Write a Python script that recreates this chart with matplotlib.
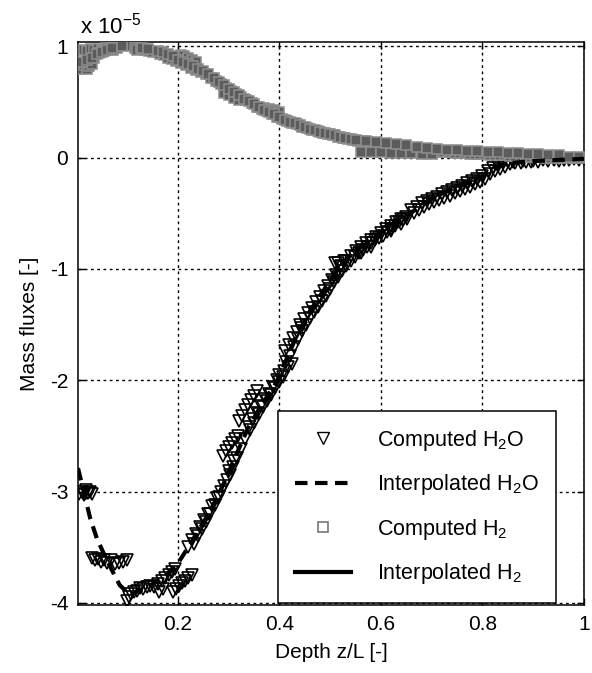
import matplotlib
matplotlib.use("Agg")
import matplotlib.pyplot as plt
from matplotlib.lines import Line2D

plt.rcParams['font.family'] = ['Liberation Sans', 'DejaVu Sans']
plt.rcParams['mathtext.fontset'] = 'custom'
plt.rcParams['mathtext.rm'] = 'Liberation Sans'
plt.rcParams['mathtext.it'] = 'Liberation Sans'
plt.rcParams['mathtext.default'] = 'regular'

# ---------------- data (units of 1e-5) ----------------
# Interpolated H2O (dashed line)
h2o_line_x = [0.003, 0.027, 0.04, 0.06, 0.085, 0.105, 0.14, 0.178, 0.198, 0.223,
              0.263, 0.289, 0.306, 0.338, 0.365, 0.395, 0.415, 0.434, 0.46, 0.493,
              0.52, 0.545, 0.585, 0.62, 0.657, 0.71, 0.76, 0.795, 0.82, 0.85,
              0.9, 0.95, 1.0]
h2o_line_y = [-2.79, -3.24, -3.42, -3.62, -3.84, -3.93, -3.86, -3.75, -3.66, -3.48,
              -3.18, -2.94, -2.76, -2.43, -2.22, -2.01, -1.80, -1.60, -1.38, -1.15,
              -0.97, -0.85, -0.73, -0.60, -0.50, -0.34, -0.25, -0.18, -0.10, -0.05,
              -0.03, -0.02, -0.01]

# Computed H2O (triangles)
h2o_pts_x = [0.005, 0.01, 0.014, 0.018, 0.022, 0.026, 0.03,
             0.03, 0.036, 0.042, 0.048, 0.054, 0.06, 0.068, 0.076, 0.084, 0.092, 0.1,
             0.1, 0.104, 0.108, 0.114, 0.12, 0.126, 0.132, 0.138, 0.145, 0.152, 0.16,
             0.168, 0.175, 0.182, 0.188, 0.194, 0.162, 0.17,
             0.19, 0.196, 0.202, 0.208, 0.214, 0.22, 0.228,
             0.22, 0.228, 0.236, 0.244, 0.252, 0.26, 0.268, 0.276, 0.284, 0.29,
             0.288, 0.294, 0.3, 0.306, 0.312, 0.318, 0.3, 0.31,
             0.32, 0.326, 0.332, 0.338, 0.344, 0.35, 0.356,
             0.34, 0.348, 0.356, 0.364, 0.372, 0.38, 0.388, 0.396,
             0.4, 0.408, 0.416, 0.424,
             0.41, 0.418, 0.426, 0.434, 0.442,
             0.44, 0.448, 0.456, 0.464, 0.472, 0.48, 0.488, 0.496, 0.504, 0.512,
             0.51, 0.516, 0.522, 0.528,
             0.52, 0.53, 0.54, 0.55, 0.56, 0.57, 0.58, 0.59, 0.6, 0.61, 0.62, 0.63,
             0.64, 0.65, 0.56, 0.58, 0.62, 0.64,
             0.66, 0.67, 0.68, 0.69, 0.7, 0.71, 0.72, 0.73, 0.74, 0.75, 0.76, 0.77,
             0.78, 0.79, 0.8, 0.81, 0.82, 0.83, 0.84, 0.85, 0.86, 0.88, 0.9, 0.92,
             0.94, 0.96, 0.98, 1.0,
             0.232, 0.24, 0.248, 0.256, 0.264, 0.272, 0.28, 0.296, 0.302, 0.308,
             0.316, 0.324, 0.332, 0.342, 0.35, 0.36, 0.368, 0.376, 0.384, 0.392,
             0.4, 0.406, 0.412, 0.42, 0.428, 0.436, 0.444, 0.452, 0.46, 0.468,
             0.476, 0.484, 0.492, 0.5, 0.508, 0.516, 0.524, 0.532, 0.54, 0.548,
             0.556, 0.564, 0.572, 0.58, 0.588, 0.596, 0.604, 0.612, 0.62, 0.628,
             0.636, 0.644, 0.652, 0.665, 0.675, 0.685, 0.695, 0.705, 0.715, 0.725,
             0.735, 0.745, 0.755, 0.765, 0.775, 0.785, 0.795, 0.805, 0.815, 0.825,
             0.835, 0.845, 0.855, 0.865, 0.875, 0.885, 0.895, 0.91, 0.93, 0.95,
             0.97, 0.99]
h2o_pts_y = [-3.02, -3.0, -3.03, -2.99, -3.01, -3.0, -3.02,
             -3.6, -3.62, -3.61, -3.63, -3.62, -3.64, -3.62, -3.65, -3.64, -3.63, -3.62,
             -3.98, -3.95, -3.92, -3.9, -3.89, -3.87, -3.88, -3.86, -3.85, -3.86, -3.83,
             -3.8, -3.78, -3.75, -3.72, -3.7, -3.9, -3.88,
             -3.9, -3.88, -3.85, -3.82, -3.8, -3.78, -3.75,
             -3.5, -3.44, -3.38, -3.32, -3.26, -3.2, -3.13, -3.06, -3.0, -2.95,
             -2.68, -2.64, -2.6, -2.56, -2.53, -2.5, -2.82, -2.73,
             -2.37, -2.32, -2.27, -2.22, -2.18, -2.14, -2.1,
             -2.42, -2.35, -2.29, -2.23, -2.17, -2.12, -2.06, -2.0,
             -1.95, -1.92, -1.88, -1.85,
             -1.74, -1.68, -1.62, -1.57, -1.53,
             -1.5, -1.45, -1.4, -1.35, -1.3, -1.25, -1.2, -1.15, -1.1, -1.05,
             -0.95, -0.95, -0.97, -0.93,
             -0.98, -0.93, -0.88, -0.84, -0.8, -0.77, -0.74, -0.71, -0.68, -0.64, -0.61, -0.58,
             -0.55, -0.53, -0.86, -0.8, -0.66, -0.6,
             -0.47, -0.44, -0.41, -0.39, -0.37, -0.35, -0.33, -0.31, -0.29, -0.27, -0.25, -0.23,
             -0.21, -0.19, -0.16, -0.12, -0.09, -0.07, -0.05, -0.04, -0.035, -0.03, -0.03, -0.025,
             -0.02, -0.02, -0.015, -0.01,
             -3.47, -3.4, -3.34, -3.27, -3.2, -3.12, -3.05, -2.9, -2.85, -2.78,
             -2.7, -2.62, -2.53, -2.45, -2.38, -2.3, -2.24, -2.19, -2.13, -2.07,
             -2.02, -1.97, -1.84, -1.78, -1.7, -1.63, -1.56, -1.5, -1.44, -1.39,
             -1.34, -1.29, -1.24, -1.18, -1.12, -1.07, -1.02, -0.97, -0.93, -0.89,
             -0.86, -0.83, -0.8, -0.77, -0.74, -0.72, -0.7, -0.67, -0.64, -0.61,
             -0.58, -0.56, -0.55, -0.5, -0.47, -0.44, -0.42, -0.4, -0.38, -0.36,
             -0.34, -0.32, -0.3, -0.28, -0.26, -0.24, -0.22, -0.19, -0.15, -0.12,
             -0.1, -0.08, -0.06, -0.05, -0.045, -0.04, -0.04, -0.035, -0.03, -0.03,
             -0.025, -0.02]

# Interpolated H2 (solid line)
h2_line_x = [0.003, 0.027, 0.052, 0.08, 0.1, 0.15, 0.2, 0.25, 0.3, 0.35, 0.4, 0.45,
             0.5, 0.55, 0.6, 0.65, 0.7, 0.75, 0.8, 0.85, 0.9, 0.95, 1.0]
h2_line_y = [0.82, 0.92, 0.98, 1.0, 1.0, 0.97, 0.89, 0.78, 0.61, 0.47, 0.36, 0.27,
             0.2, 0.16, 0.13, 0.10, 0.07, 0.05, 0.04, 0.03, 0.02, 0.01, 0.0]

# Computed H2 (squares)
h2_pts_x = [0.0, 0.005, 0.01, 0.015, 0.02, 0.025, 0.03,
            0.015, 0.02, 0.028, 0.035, 0.042, 0.05, 0.058, 0.065, 0.072,
            0.035, 0.045, 0.055,
            0.08, 0.088, 0.095, 0.1, 0.105, 0.11,
            0.115, 0.12, 0.128, 0.135, 0.142, 0.15, 0.158, 0.165, 0.172, 0.18, 0.188, 0.196,
            0.205, 0.212, 0.22, 0.228, 0.235,
            0.205, 0.215, 0.225, 0.235, 0.245, 0.255, 0.265, 0.275, 0.285, 0.295, 0.305,
            0.315, 0.325, 0.335,
            0.29, 0.3, 0.31, 0.32,
            0.345, 0.355, 0.365, 0.375, 0.385, 0.395, 0.405, 0.415, 0.425, 0.435,
            0.37, 0.38, 0.39, 0.4,
            0.445, 0.455, 0.465, 0.475, 0.485, 0.495, 0.505, 0.515, 0.525, 0.535,
            0.545, 0.555, 0.565, 0.575, 0.585, 0.595, 0.605, 0.615, 0.625, 0.635,
            0.645, 0.655, 0.665, 0.675, 0.685, 0.695, 0.705, 0.715, 0.725, 0.735,
            0.745, 0.755, 0.765, 0.775, 0.785, 0.795, 0.805, 0.815, 0.825, 0.835,
            0.845, 0.855, 0.865, 0.875, 0.885, 0.895, 0.905, 0.915, 0.925, 0.935,
            0.945, 0.955, 0.965, 0.975, 0.985, 0.995,
            0.56, 0.58, 0.6, 0.62, 0.64, 0.66, 0.68, 0.7,
            0.01, 0.02, 0.03, 0.04, 0.05, 0.06, 0.07, 0.09, 0.13, 0.14,
            0.16, 0.17, 0.18, 0.19, 0.2, 0.21, 0.22, 0.23, 0.24, 0.25,
            0.26, 0.27, 0.28, 0.29, 0.3, 0.31, 0.32, 0.33, 0.34, 0.35,
            0.36, 0.37, 0.38, 0.39, 0.4, 0.41, 0.42, 0.43, 0.44, 0.45,
            0.46, 0.47, 0.48, 0.49, 0.5, 0.51, 0.52, 0.53, 0.54, 0.55,
            0.57, 0.59, 0.61, 0.63, 0.65, 0.67, 0.69, 0.71, 0.73, 0.75,
            0.77, 0.79, 0.81, 0.83, 0.85, 0.87, 0.89, 0.91, 0.93, 0.95,
            0.97, 0.99]
h2_pts_y = [0.8, 0.82, 0.8, 0.83, 0.8, 0.82, 0.84,
            0.97, 0.96, 0.98, 0.97, 0.98, 0.97, 0.99, 0.98, 0.97,
            0.9, 0.94, 0.96,
            0.99, 1.02, 1.04, 1.03, 1.01, 1.0,
            0.99, 0.97, 0.98, 0.97, 0.96, 0.95, 0.95, 0.93, 0.92, 0.9, 0.89, 0.87,
            0.92, 0.91, 0.9, 0.88, 0.86,
            0.85, 0.83, 0.81, 0.79, 0.77, 0.75, 0.72, 0.69, 0.66, 0.63, 0.6,
            0.57, 0.55, 0.52,
            0.58, 0.56, 0.54, 0.52,
            0.49, 0.46, 0.44, 0.42, 0.39, 0.37, 0.35, 0.33, 0.31, 0.3,
            0.45, 0.44, 0.43, 0.41,
            0.28, 0.27, 0.25, 0.24, 0.22, 0.21, 0.2, 0.19, 0.18, 0.17,
            0.16, 0.15, 0.15, 0.14, 0.13, 0.12, 0.12, 0.11, 0.1, 0.1,
            0.09, 0.08, 0.08, 0.07, 0.07, 0.06, 0.06, 0.05, 0.05, 0.05,
            0.04, 0.04, 0.04, 0.035, 0.03, 0.03, 0.03, 0.025, 0.02, 0.02,
            0.02, 0.015, 0.015, 0.01, 0.01, 0.01, 0.005, 0.005, 0.0, 0.0,
            0.0, -0.005, -0.005, 0.0, 0.0, 0.0,
            0.05, 0.05, 0.05, 0.04, 0.04, 0.04, 0.03, 0.03,
            0.86, 0.88, 0.9, 0.93, 0.95, 0.97, 0.99, 1.0, 0.99, 0.98,
            0.96, 0.95, 0.93, 0.91, 0.88, 0.86, 0.84, 0.82, 0.8, 0.78,
            0.75, 0.72, 0.68, 0.65, 0.62, 0.59, 0.56, 0.53, 0.51, 0.48,
            0.46, 0.43, 0.41, 0.39, 0.37, 0.34, 0.32, 0.31, 0.29, 0.28,
            0.26, 0.25, 0.23, 0.22, 0.21, 0.2, 0.19, 0.18, 0.17, 0.16,
            0.15, 0.14, 0.13, 0.12, 0.11, 0.1, 0.09, 0.08, 0.07, 0.07,
            0.06, 0.06, 0.05, 0.05, 0.04, 0.04, 0.03, 0.03, 0.02, 0.02,
            0.01, 0.01]

xticks = [0.2, 0.4, 0.6, 0.8, 1.0]
xtick_labels = ['0.2', '0.4', '0.6', '0.8', '1']
yticks = [-4, -3, -2, -1, 0, 1]
ytick_labels = ['-4', '-3', '-2', '-1', '0', '1']

# ---------------- figure ----------------
fig = plt.figure(figsize=(5.92, 6.73), dpi=100)
ax = fig.add_axes([78/592, 1 - 605/673, (584-78)/592, (605-42)/673])

dash = (0, (3.0, 1.8))
ax.plot(h2o_line_x, h2o_line_y, color='black', lw=3.0, ls=dash, zorder=4)
ax.plot(h2_line_x, h2_line_y, color='black', lw=3.0, ls='-', zorder=2)
ax.plot(h2o_pts_x, h2o_pts_y, ls='none', marker='v', ms=9, mfc='none',
        mec='black', mew=1.2, zorder=3)
ax.plot(h2_pts_x, h2_pts_y, ls='none', marker='s', ms=7.5, mfc='#5c5c5c',
        mec='#8e8e8e', mew=1.1, zorder=3)

ax.set_xlim(0.003, 1.0)
ax.set_ylim(-4.02, 1.04)
ax.set_xticks(xticks)
ax.set_xticklabels(xtick_labels)
ax.set_yticks(yticks)
ax.set_yticklabels(ytick_labels)
ax.tick_params(direction='in', length=5, width=1, top=True, right=True,
               labelsize=15, pad=7, colors='black')
for s in ax.spines.values():
    s.set_linewidth(1.1)
    s.set_color('black')
ax.grid(True, color='black', ls=(0, (2, 2.5)), lw=1.0)
ax.set_axisbelow(True)

ax.set_xlabel('Depth z/L [-]', fontsize=15, labelpad=7)
ax.set_ylabel('Mass fluxes [-]', fontsize=15, labelpad=8)
ax.text(0.004, 1.006, 'x 10$^{-5}$', transform=ax.transAxes, fontsize=16,
        ha='left', va='bottom')

handles = [
    Line2D([], [], ls='none', marker='v', ms=8, mfc='none', mec='black', mew=1.0),
    Line2D([], [], color='black', lw=3.0, ls=dash),
    Line2D([], [], ls='none', marker='s', ms=7, mfc='none', mec='#777777', mew=1.2),
    Line2D([], [], color='black', lw=3.0, ls='-'),
]
labels = ['Computed H$_2$O', 'Interpolated H$_2$O', 'Computed H$_2$', 'Interpolated H$_2$']
leg = ax.legend(handles, labels,
                loc='lower left', bbox_to_anchor=(0.395, 0.003), fontsize=15.5,
                frameon=True, fancybox=False, edgecolor='black', framealpha=1,
                handlelength=2.6, handletextpad=1.2, labelspacing=0.9,
                borderpad=0.8, borderaxespad=0.0, numpoints=1)
leg.get_frame().set_linewidth(1.1)
leg.set_zorder(10)

fig.savefig('out.png', dpi=100)
